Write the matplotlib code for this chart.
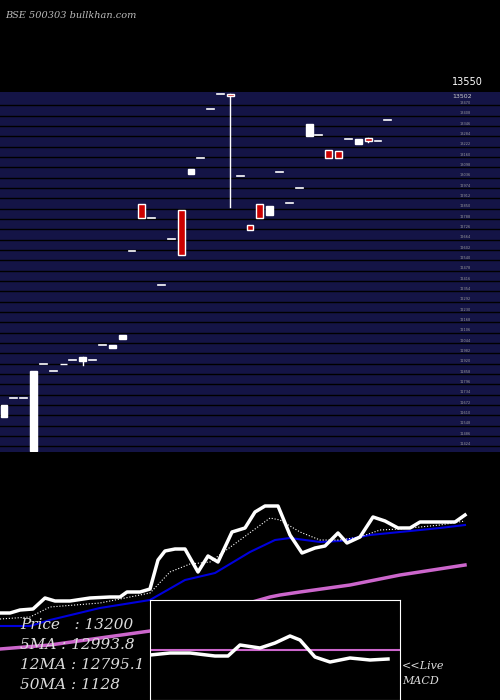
import numpy as np
import matplotlib
matplotlib.use('Agg')
import matplotlib.pyplot as plt

# candles: top, bottom of body (price), colour; 'd' = doji dash
c_top = [11672, 11714, 11714, 11876, 11918, 11876, 11918, 11942, 11960, 11942,
         12032, 12032, 12092, 12596, 12878, 12794, 12392, 12668, 12842, 13088,
         13154, 13448, 13538, 13538, 13046, 12752, 12878, 12866, 13070, 12884,
         12974, 13358, 13292, 13202, 13196, 13268, 13268, 13274, 13256, 13382]
c_bot = [11600, 11714, 11714, 11396, 11918, 11876, 11918, 11942, 11936, 11942,
         12032, 12014, 12068, 12596, 12794, 12794, 12392, 12668, 12572, 13058,
         13154, 13448, 13538, 13526, 13046, 12722, 12794, 12812, 13070, 12884,
         12974, 13286, 13292, 13154, 13154, 13268, 13238, 13256, 13256, 13382]
c_kind = ['w', 'd', 'd', 'w', 'd', 'd', 'r', 'd', 'w', 'd',
          'd', 'w', 'w', 'd', 'r', 'd', 'd', 'd', 'r', 'w',
          'd', 'd', 'd', 'r', 'd', 'r', 'r', 'w', 'd', 'd',
          'd', 'w', 'd', 'r', 'r', 'd', 'w', 'r', 'd', 'd']
c_low = {8: 11912, 23: 12862, 37: 13250}

# bottom panel series (screen-like values, higher = lower on screen)
px = [0, 10, 20, 33, 45, 55, 70, 90, 110, 120, 127, 140, 150, 158, 165, 175, 185, 198, 208, 218,
      232, 245, 255, 265, 278, 290, 302, 315, 325, 338, 347, 360, 373, 385, 398, 410, 420, 440, 455, 465]
price = [613, 613, 610, 609, 598, 601, 601, 598, 597, 597, 592, 592, 589, 560, 551, 549, 549, 572, 556, 562,
         532, 528, 512, 506, 506, 535, 553, 548, 546, 533, 543, 537, 517, 521, 528, 528, 522, 522, 522, 515]
m5x = [0, 30, 50, 100, 150, 170, 190, 210, 240, 270, 280, 300, 320, 340, 360, 380, 400, 440, 465]
m5 = [619, 617, 607, 603, 593, 572, 564, 562, 540, 518, 520, 532, 540, 540, 537, 530, 529, 525, 521]
m12x = [0, 30, 50, 100, 150, 185, 215, 250, 275, 290, 320, 340, 370, 400, 440, 465]
m12 = [626, 626, 620, 608, 600, 580, 573, 552, 540, 538, 542, 541, 535, 532, 528, 525]
m50x = [0, 50, 150, 270, 280, 300, 350, 400, 465]
m50 = [649, 645, 631, 597, 595, 592, 585, 575, 565]
macdx = [150, 170, 190, 215, 228, 240, 260, 275, 290, 300, 315, 330, 350, 370, 388]
macd = [655, 653, 653, 656, 656, 645, 648, 643, 636, 640, 657, 662, 658, 660, 659]
signal = 650


def blank(a):
    a.set_xticks([])
    a.set_yticks([])
    for s in a.spines.values():
        s.set_visible(False)


fig = plt.figure(figsize=(5, 7), dpi=100, facecolor='black')

ax = fig.add_axes([0, 248/700, 1, 360/700])
ax.set_facecolor('#141446')
ax.set_xlim(-0.41, 50.4)
ax.set_ylim(11390, 13550)
for lv in np.arange(13470, 11390, -62):
    ax.axhline(lv, color='black', lw=1.0, zorder=0.5)
    ax.text(46.3, lv + 8, '%d' % lv, color='#999999', fontsize=2.5)
for i in range(len(c_top)):
    t, b, k = c_top[i], c_bot[i], c_kind[i]
    if i in c_low:
        ax.plot([i, i], [c_low[i], t], color='white', lw=1, zorder=2)
    if k == 'd':
        ax.plot([i - 0.35, i + 0.35], [t, t], color='white', lw=1.2, zorder=2)
    else:
        fc = 'white' if k == 'w' else '#cc0000'
        ax.bar(i, t - b, 0.7, bottom=b, color=fc, edgecolor='white', lw=1, zorder=3)
blank(ax)

fig.text(452/500, 1 - 85/700, '13550', color='white', fontsize=7)
fig.text(452/500, 1 - 98/700, '13502', color='#cccccc', fontsize=4.5)
fig.text(0.01, 0.985, 'BSE 500303 bullkhan.com', color='#bbbbbb', fontsize=7,
         family='DejaVu Serif', style='italic', va='top')

bx = fig.add_axes([0, 0, 1, 210/700])
bx.set_facecolor('black')
bx.set_xlim(0, 500)
bx.set_ylim(700, 490)
bx.plot(m50x, m50, color='#cc66cc', lw=2.5)
bx.plot(m12x, m12, color='#0000dd', lw=1.5)
bx.plot(m5x, m5, color='white', lw=0.8, ls=':')
bx.plot(px, price, color='white', lw=2.5)
blank(bx)

mx = fig.add_axes([150/500, 0, 250/500, 100/700])
mx.set_facecolor('black')
mx.set_xlim(150, 400)
mx.set_ylim(700, 600)
mx.axhline(signal, color='#cc66cc', lw=1.5)
mx.plot(macdx, macd, color='white', lw=2.5)
mx.set_xticks([])
mx.set_yticks([])
for s in mx.spines.values():
    s.set_color('white')

labels = ['Price   : 13200', '5MA : 12993.8', '12MA : 12795.1', '50MA : 1128']
for j, s in enumerate(labels):
    fig.text(20/500, 1 - (625 + 20 * j)/700, s, color='#dddddd', fontsize=11,
             family='DejaVu Serif', style='italic', va='center')
fig.text(402/500, 1 - 666/700, '<<Live', color='#dddddd', fontsize=8,
         family='DejaVu Serif', style='italic', va='center')
fig.text(402/500, 1 - 681/700, 'MACD', color='#dddddd', fontsize=8,
         family='DejaVu Serif', style='italic', va='center')

fig.savefig('out.png', dpi=100, facecolor='black')
